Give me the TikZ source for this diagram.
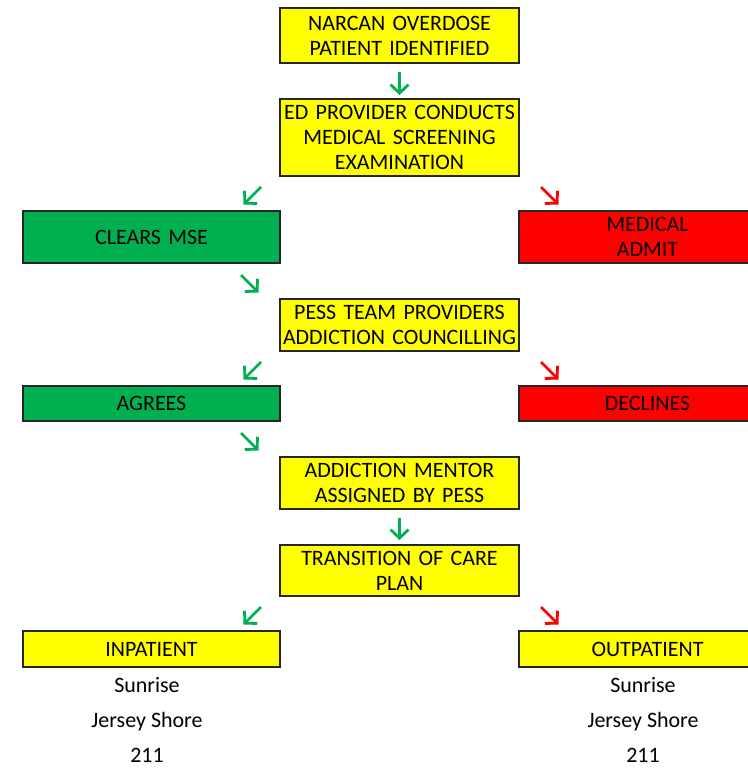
\documentclass[tikz,border=0pt]{standalone}
\usepackage{fontspec}
\setmainfont{Carlito}
\usepackage{xcolor}
\usepackage{tikz}
\usetikzlibrary{arrows.meta,positioning,calc}

\definecolor{boxyellow}{HTML}{FFFF00}
\definecolor{boxgreen}{HTML}{00B050}
\definecolor{boxred}{HTML}{FF0000}

\begin{document}
\begin{tikzpicture}[
    font=\fontsize{12.5}{14.2}\selectfont,
    mainbox/.style={rectangle, draw=black!85, line width=1pt, outer sep=0pt, fill=boxyellow, minimum width=4.78cm, text width=4.74cm, align=center, inner sep=0.02cm},
    sidebox/.style={rectangle, draw=black!85, line width=1pt, outer sep=0pt, minimum width=5.14cm, text width=5cm, align=center, inner sep=0.02cm},
    site/.style={minimum height=0.7cm, text height=9pt, text depth=3pt, inner sep=0, outer sep=0pt},
    garrow/.style={-{Straight Barb[length=1.7mm,width=3.6mm]}, line width=1.6pt, boxgreen},
    rarrow/.style={-{Straight Barb[length=1.7mm,width=3.6mm]}, line width=1.6pt, boxred}
]
\useasboundingbox (0,0) rectangle (14.96,-15.36);

% Centre column
\node[mainbox, minimum height=1.1cm, anchor=north west] (narcan) at (5.6,-0.16) {NARCAN OVERDOSE\\PATIENT IDENTIFIED};
\node[mainbox, minimum height=1.54cm, below=0.72cm of narcan] (edscreen) {ED PROVIDER CONDUCTS\\MEDICAL SCREENING\\EXAMINATION};

% First split
\node[sidebox, fill=boxgreen, minimum height=1.04cm, below left=0.7cm and 0cm of edscreen.south west] (clears) {CLEARS MSE};
\node[sidebox, fill=boxred, minimum height=1.04cm, below right=0.7cm and 0cm of edscreen.south east] (admit) {MEDICAL\\ADMIT};

\node[mainbox, minimum height=1.04cm, below right=0.72cm and 0cm of clears.south east] (pess) {PESS TEAM PROVIDERS\\ADDICTION COUNCILLING};

% Second split
\node[sidebox, fill=boxgreen, minimum height=0.7cm, below left=0.7cm and 0cm of pess.south west] (agrees) {AGREES};
\node[sidebox, fill=boxred, minimum height=0.7cm, below right=0.7cm and 0cm of pess.south east] (declines) {DECLINES};

\node[mainbox, minimum height=1.04cm, below right=0.72cm and 0cm of agrees.south east] (mentor) {ADDICTION MENTOR\\ASSIGNED BY PESS};
\node[mainbox, minimum height=1.02cm, below=0.72cm of mentor] (transition) {TRANSITION OF CARE\\PLAN};

% Final split
\node[sidebox, fill=boxyellow, minimum height=0.72cm, below left=0.7cm and 0cm of transition.south west] (inpatient) {INPATIENT};
\node[sidebox, fill=boxyellow, minimum height=0.72cm, below right=0.7cm and 0cm of transition.south east] (outpatient) {OUTPATIENT};

% Sites
\node[site, below=0.05cm of inpatient, xshift=-0.09cm] (insunrise) {Sunrise};
\node[site, below=0cm of insunrise] (injersey) {Jersey Shore};
\node[site, below=0cm of injersey] (intwo) {211};
\node[site, below=0.05cm of outpatient, xshift=-0.09cm] (outsunrise) {Sunrise};
\node[site, below=0cm of outsunrise] (outjersey) {Jersey Shore};
\node[site, below=0cm of outjersey] (outtwo) {211};

% Arrow ends
\coordinate (clearsa) at ($(clears.north east)+(-0.38,0.48)$);
\coordinate (clearsb) at ($(clears.north east)+(-0.73,0.13)$);
\coordinate (admita) at ($(admit.north west)+(0.44,0.48)$);
\coordinate (admitb) at ($(admit.north west)+(0.79,0.13)$);
\coordinate (pessa) at ($(pess.north west)+(-0.78,0.48)$);
\coordinate (pessb) at ($(pess.north west)+(-0.43,0.13)$);
\coordinate (agreesa) at ($(agrees.north east)+(-0.38,0.48)$);
\coordinate (agreesb) at ($(agrees.north east)+(-0.73,0.13)$);
\coordinate (declinesa) at ($(declines.north west)+(0.44,0.48)$);
\coordinate (declinesb) at ($(declines.north west)+(0.79,0.13)$);
\coordinate (mentora) at ($(mentor.north west)+(-0.78,0.48)$);
\coordinate (mentorb) at ($(mentor.north west)+(-0.43,0.13)$);
\coordinate (inpata) at ($(inpatient.north east)+(-0.38,0.48)$);
\coordinate (inpatb) at ($(inpatient.north east)+(-0.73,0.13)$);
\coordinate (outpata) at ($(outpatient.north west)+(0.44,0.48)$);
\coordinate (outpatb) at ($(outpatient.north west)+(0.79,0.13)$);

% Arrows
\draw[garrow, shorten <=0.18cm, shorten >=0.08cm] (narcan) -- (edscreen);
\draw[garrow] (clearsa) -- (clearsb);
\draw[rarrow] (admita) -- (admitb);
\draw[garrow] (pessa) -- (pessb);
\draw[garrow] (agreesa) -- (agreesb);
\draw[rarrow] (declinesa) -- (declinesb);
\draw[garrow] (mentora) -- (mentorb);
\draw[garrow, shorten <=0.18cm, shorten >=0.1cm] (mentor) -- (transition);
\draw[garrow] (inpata) -- (inpatb);
\draw[rarrow] (outpata) -- (outpatb);

\end{tikzpicture}
\end{document}
